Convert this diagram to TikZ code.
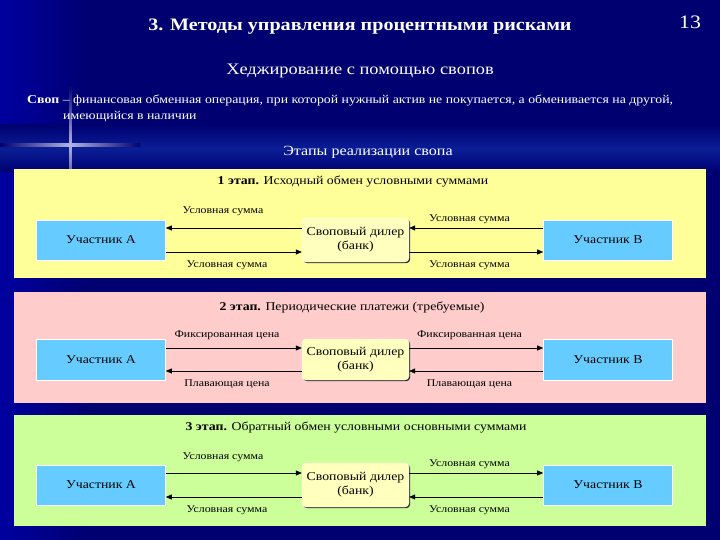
\documentclass[tikz,border=0pt]{standalone}
\usepackage{fontspec}
\setmainfont[FakeStretch=1.15]{Liberation Serif}
\usetikzlibrary{positioning,calc,arrows.meta,shadows}

\definecolor{bgnavy}{RGB}{0,0,112}
\definecolor{bgside}{RGB}{0,0,160}
\definecolor{bgband}{RGB}{10,30,150}
\definecolor{stageyellow}{RGB}{255,255,153}
\definecolor{stagepink}{RGB}{255,204,204}
\definecolor{stagegreen}{RGB}{204,255,153}
\definecolor{partblue}{RGB}{102,204,255}
\definecolor{dealerfill}{RGB}{255,255,190}

\begin{document}
\begin{tikzpicture}[
    x=1pt, y=-1pt,
    panel/.style={rectangle, minimum width=692pt, inner sep=0pt},
    part/.style={rectangle, fill=partblue, draw=white, line width=0.6pt,
        minimum width=129pt, minimum height=40pt, font=\fontsize{12}{13}\selectfont},
    dealer/.style={rectangle, rounded corners=4pt, fill=dealerfill, draw=white, line width=0.4pt,
        minimum width=107pt, minimum height=44pt, align=center, inner sep=1pt,
        font=\fontsize{12}{14}\selectfont,
        drop shadow={shadow xshift=1.2pt, shadow yshift=-1.2pt, fill=black!85, opacity=1}},
    flow/.style={-{Triangle[length=6pt,width=5pt]}, line width=0.7pt},
    lbl/.style={font=\fontsize{10.3}{11}\selectfont, inner sep=1pt},
    head/.style={font=\fontsize{12}{14}\selectfont}
]
    % background
    \useasboundingbox (0,0) rectangle (720,540);
    \fill[bgnavy] (0,0) rectangle (720,540);
    \shade[left color=bgside, right color=bgnavy] (0,0) rectangle (90,540);
    \shade[top color=bgnavy, bottom color=bgnavy, middle color=bgband] (0,125) rectangle (720,172);
    \shade[left color=bgnavy, right color=bgnavy, middle color=white!70!bgside] (0,143.5) rectangle (140,146.5);
    \shade[top color=bgnavy, bottom color=bgnavy, middle color=white!70!bgside] (69,85) rectangle (71.5,205);

    % headings
    \node[font=\fontsize{17.5}{20}\selectfont\bfseries, text=white] (title) at (360,27) {3. Методы управления процентными рисками};
    \node[font=\fontsize{19}{22}\selectfont, text=white] (pageno) at (690,22) {13};
    \node[font=\fontsize{16}{18}\selectfont, text=white] (subtitle) at (360,71) {Хеджирование с помощью свопов};
    \node[font=\fontsize{12}{14}\selectfont, text=white, anchor=west, inner sep=0pt] (defa) at (27,101)
        {\textbf{Своп} – финансовая обменная операция, при которой нужный актив не покупается, а обменивается на другой,};
    \node[font=\fontsize{12}{14}\selectfont, text=white, anchor=west, inner sep=0pt] (defb) at (63,117) {имеющийся в наличии};
    \node[font=\fontsize{14}{16}\selectfont, text=white] (stages) at (368,152) {Этапы реализации свопа};

    % stage 1
    \node[panel, fill=stageyellow, minimum height=109pt] (panela) at (360,223.5) {};
    \node[head] (heada) at (353,182) {\textbf{1 этап.} Исходный обмен условными суммами};
    \node[part] (parta) at (101,240) {Участник А};
    \node[dealer] (dealera) at (355.5,240) {Своповый дилер\\(банк)};
    \node[part] (partb) at (608,240) {Участник В};
    \draw[flow] ([yshift=12pt]dealera.west) -- node[lbl, above=11pt, pos=0.58] (la1) {Условная сумма} ([yshift=12pt]parta.east);
    \draw[flow] ([yshift=-12pt]parta.east) -- node[lbl, below=7pt, pos=0.45] (la2) {Условная сумма} ([yshift=-12pt]dealera.west);
    \draw[flow] ([yshift=12pt]partb.west) -- node[lbl, above=3pt, pos=0.55] (la3) {Условная сумма} ([yshift=12pt]dealera.east);
    \draw[flow] ([yshift=-12pt]dealera.east) -- node[lbl, below=7pt, pos=0.45] (la4) {Условная сумма} ([yshift=-12pt]partb.west);

    % stage 2
    \node[panel, fill=stagepink, minimum height=111pt] (panelb) at (360,347.5) {};
    \node[head] (headb) at (352,307) {\textbf{2 этап.} Периодические платежи (требуемые)};
    \node[part, minimum height=41pt] (partc) at (101,359.5) {Участник А};
    \node[dealer, minimum height=41pt] (dealerb) at (355.5,359.5) {Своповый дилер\\(банк)};
    \node[part, minimum height=41pt] (partd) at (608,359.5) {Участник В};
    \draw[flow] ([yshift=11.5pt]partc.east) -- node[lbl, above=7pt, pos=0.45] (lb1) {Фиксированная цена} ([yshift=11.5pt]dealerb.west);
    \draw[flow] ([yshift=-11.5pt]dealerb.west) -- node[lbl, below=7pt, pos=0.55] (lb2) {Плавающая цена} ([yshift=-11.5pt]partc.east);
    \draw[flow] ([yshift=11.5pt]dealerb.east) -- node[lbl, above=7pt, pos=0.45] (lb3) {Фиксированная цена} ([yshift=11.5pt]partd.west);
    \draw[flow] ([yshift=-11.5pt]partd.west) -- node[lbl, below=7pt, pos=0.55] (lb4) {Плавающая цена} ([yshift=-11.5pt]dealerb.east);

    % stage 3
    \node[panel, fill=stagegreen, minimum height=111pt] (panelc) at (360,470.5) {};
    \node[head] (headc) at (356,427) {\textbf{3 этап.} Обратный обмен условными основными суммами};
    \node[part] (parte) at (101,485) {Участник А};
    \node[dealer] (dealerc) at (355.5,485) {Своповый дилер\\(банк)};
    \node[part] (partf) at (608,485) {Участник В};
    \draw[flow] ([yshift=12pt]parte.east) -- node[lbl, above=10pt, pos=0.42] (lc1) {Условная сумма} ([yshift=12pt]dealerc.west);
    \draw[flow] ([yshift=-12pt]dealerc.west) -- node[lbl, below=7pt, pos=0.55] (lc2) {Условная сумма} ([yshift=-12pt]parte.east);
    \draw[flow] ([yshift=12pt]dealerc.east) -- node[lbl, above=3pt, pos=0.45] (lc3) {Условная сумма} ([yshift=12pt]partf.west);
    \draw[flow] ([yshift=-12pt]partf.west) -- node[lbl, below=7pt, pos=0.55] (lc4) {Условная сумма} ([yshift=-12pt]dealerc.east);
\end{tikzpicture}
\end{document}
